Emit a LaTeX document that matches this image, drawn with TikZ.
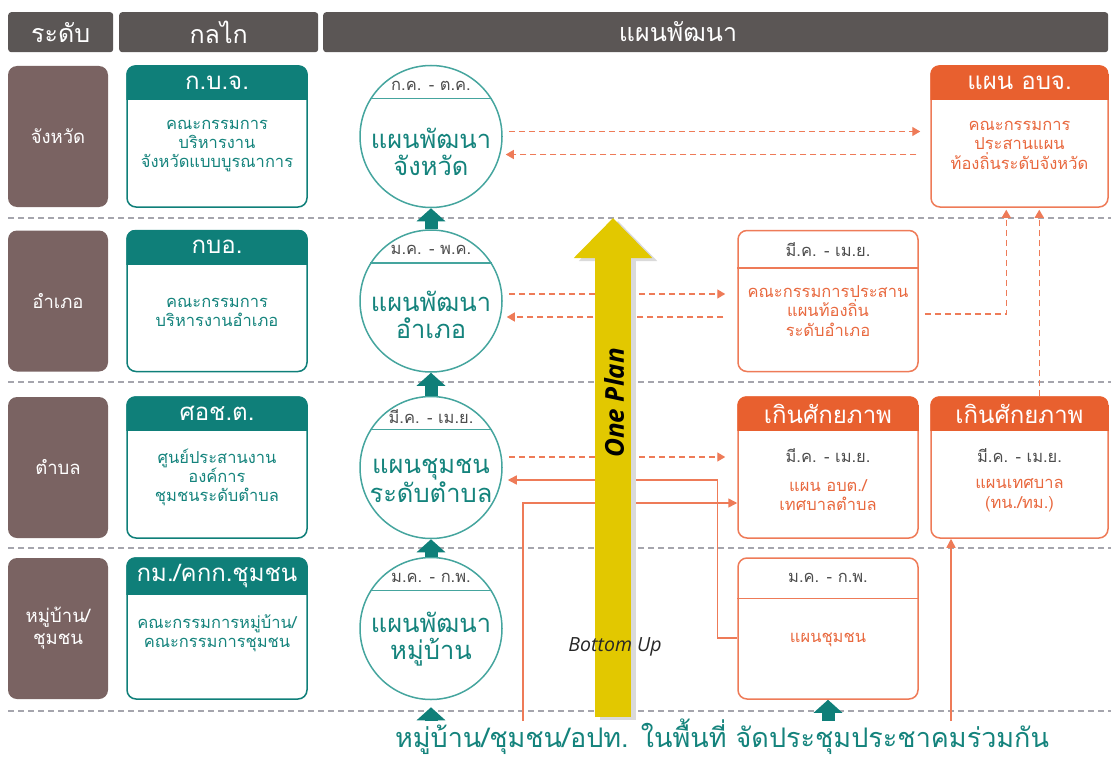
\documentclass[tikz,border=0pt]{standalone}
\usepackage{fontspec}
\setmainfont[Script=Thai]{Loma}
\newfontfamily\latinfont{Open Sans}
\usetikzlibrary{positioning,arrows.meta,calc}

\definecolor{barc}{HTML}{5B5655}
\definecolor{levelc}{HTML}{7A6362}
\definecolor{tealc}{HTML}{0F7F79}
\definecolor{tealline}{HTML}{45A59E}
\definecolor{tealtxt}{HTML}{14837C}
\definecolor{orangec}{HTML}{E8602F}
\definecolor{orangeline}{HTML}{EE7B58}
\definecolor{orangetxt}{HTML}{E8683E}
\definecolor{yellowc}{HTML}{E2C800}
\definecolor{shadowc}{HTML}{DADADA}
\definecolor{sepc}{HTML}{A5A5AD}
\definecolor{datec}{HTML}{4D4D4D}

% coloured top band of a box node
\newcommand{\headband}[3]{%
  \begin{scope}
    \clip[rounded corners=9] (#1.south west) rectangle (#1.north east);
    \fill[#2] (#1.north west) rectangle ([yshift=-#3]#1.north east);
  \end{scope}}

\begin{document}
\begin{tikzpicture}[x=1pt, y=-1pt, >=Latex,
    bar/.style={fill=barc, text=white, rounded corners=3, minimum height=40, inner sep=0, font=\fontsize{25}{30}\selectfont},
    level/.style={fill=levelc, text=white, rounded corners=9, minimum width=100, minimum height=141, align=center, font=\fontsize{18.5}{22}\selectfont},
    mechbox/.style={draw=tealc, line width=1.5, rounded corners=9, minimum width=180, minimum height=141},
    planbox/.style={draw=orangeline, line width=1.5, rounded corners=9, minimum height=141},
    plan/.style={circle, draw=tealline, line width=1.5, minimum size=142, inner sep=0},
    captxt/.style={text=white, font=\fontsize{24}{28}\selectfont},
    mechtxt/.style={text=tealtxt, align=center, font=\fontsize{16.5}{19}\selectfont},
    localtxt/.style={text=orangetxt, align=center, font=\fontsize{16.5}{19.5}\selectfont},
    datetxt/.style={text=datec, font=\fontsize{16.5}{20}\selectfont},
    plantxt/.style={text=tealtxt, align=center, font=\fontsize{25.5}{27}\selectfont},
    sep/.style={sepc, line width=1.2, dash pattern=on 6pt off 4pt},
    dashlink/.style={orangeline, line width=1.4, dash pattern=on 6pt off 4pt, -{Triangle[width=9pt,length=8pt]}},
    link/.style={orangeline, line width=1.5, -{Triangle[width=9pt,length=9pt]}},
    uparrow/.style={tealc, line width=13, -{Triangle[width=28pt,length=13pt]}},
  ]
  \useasboundingbox (0,0) rectangle (1111,760);

  % header bar
  \node[bar, minimum width=105, anchor=north west] (hlevel) at (8,12) {ระดับ};
  \node[bar, minimum width=199, anchor=north west] (hmech) at (119,12) {กลไก};
  \node[bar, minimum width=785, anchor=north west] (hplan) at (323,12) {};
  \node[captxt, font=\fontsize{25}{30}\selectfont] (hplant) at (678,32) {แผนพัฒนา};

  % row separators
  \foreach \y in {218,382,548,711}
    \draw[sep] (8,\y) -- (1111,\y);

  % levels
  \node[level] (lv1) at (58,136.5) {จังหวัด};
  \node[level] (lv2) at (58,301) {อำเภอ};
  \node[level] (lv3) at (58,467.5) {ตำบล};
  \node[level] (lv4) at (58,628.5) {หมู่บ้าน/\\ชุมชน};

  % mechanisms
  \node[mechbox] (m1) at (217,136.5) {};
  \node[mechbox] (m2) at (217,301) {};
  \node[mechbox] (m3) at (217,467.5) {};
  \node[mechbox] (m4) at (217,628.5) {};
  \headband{m1}{tealc}{35pt}
  \headband{m2}{tealc}{35pt}
  \headband{m3}{tealc}{35pt}
  \headband{m4}{tealc}{38pt}
  \node[captxt] (m1t) at ($(m1.north)+(0,17.5)$) {ก.บ.จ.};
  \node[captxt] (m2t) at ($(m2.north)+(0,17.5)$) {กบอ.};
  \node[captxt] (m3t) at ($(m3.north)+(0,17.5)$) {ศอช.ต.};
  \node[captxt] (m4t) at ($(m4.north)+(0,19)$) {กม./คกก.ชุมชน};
  \node[mechtxt] (m1b) at ($(m1.north)+(0,81)$) {คณะกรรมการ\\บริหารงาน\\จังหวัดแบบบูรณาการ};
  \node[mechtxt] (m2b) at ($(m2.north)+(0,83)$) {คณะกรรมการ\\บริหารงานอำเภอ};
  \node[mechtxt] (m3b) at ($(m3.north)+(0,81)$) {ศูนย์ประสานงาน\\องค์การ\\ชุมชนระดับตำบล};
  \node[mechtxt] (m4b) at ($(m4.north)+(0,76)$) {คณะกรรมการหมู่บ้าน/\\คณะกรรมการชุมชน};

  % development plans
  \node[plan] (p1) at (431,136.5) {};
  \node[plan] (p2) at (431,301) {};
  \node[plan] (p3) at (431,467.5) {};
  \node[plan] (p4) at (431,628.5) {};
  \foreach \p in {p1,p2,p3,p4}
    \draw[tealline, line width=1.5] (\p.148) -- (\p.32);
  \node[datetxt] (p1d) at ($(p1.north)+(0,21)$) {ก.ค. - ต.ค.};
  \node[datetxt] (p2d) at ($(p2.north)+(0,21)$) {ม.ค. - พ.ค.};
  \node[datetxt] (p3d) at ($(p3.north)+(0,21)$) {มี.ค. - เม.ย.};
  \node[datetxt] (p4d) at ($(p4.north)+(0,21)$) {ม.ค. - ก.พ.};
  \node[plantxt] (p1t) at ($(p1.center)+(0,15)$) {แผนพัฒนา\\จังหวัด};
  \node[plantxt] (p2t) at ($(p2.center)+(0,14)$) {แผนพัฒนา\\อำเภอ};
  \node[plantxt] (p3t) at ($(p3.center)+(0,13)$) {แผนชุมชน\\ระดับตำบล};
  \node[plantxt] (p4t) at ($(p4.center)+(0,11)$) {แผนพัฒนา\\หมู่บ้าน};

  % local plans
  \node[planbox, minimum width=177] (obj) at (1019.5,136.5) {};
  \node[planbox, minimum width=180] (ab) at (828,301) {};
  \node[planbox, minimum width=180] (tb) at (828,467.5) {};
  \node[planbox, minimum width=177] (tm) at (1019.5,467.5) {};
  \node[planbox, minimum width=180] (vb) at (828,628.5) {};
  \headband{obj}{orangec}{35pt}
  \headband{tb}{orangec}{35pt}
  \headband{tm}{orangec}{35pt}
  \draw[orangeline, line width=1.5] ($(ab.north west)+(0,38)$) -- ($(ab.north east)+(0,38)$);
  \draw[orangeline, line width=1.5] ($(vb.north west)+(0,41)$) -- ($(vb.north east)+(0,41)$);
  \node[captxt] (objt) at ($(obj.north)+(0,17.5)$) {แผน อบจ.};
  \node[captxt] (tbt) at ($(tb.north)+(0,17.5)$) {เกินศักยภาพ};
  \node[captxt] (tmt) at ($(tm.north)+(0,17.5)$) {เกินศักยภาพ};
  \node[datetxt] (abd) at ($(ab.north)+(0,20)$) {มี.ค. - เม.ย.};
  \node[datetxt] (tbd) at ($(tb.north)+(0,59)$) {มี.ค. - เม.ย.};
  \node[datetxt] (tmd) at ($(tm.north)+(0,59)$) {มี.ค. - เม.ย.};
  \node[datetxt] (vbd) at ($(vb.north)+(0,21)$) {ม.ค. - ก.พ.};
  \node[localtxt] (objb) at ($(obj.north)+(0,80)$) {คณะกรรมการ\\ประสานแผน\\ท้องถิ่นระดับจังหวัด};
  \node[localtxt] (abb) at ($(ab.north)+(0,81)$) {คณะกรรมการประสาน\\แผนท้องถิ่น\\ระดับอำเภอ};
  \node[localtxt] (tbb) at ($(tb.north)+(0,99)$) {แผน อบต./\\เทศบาลตำบล};
  \node[localtxt] (tmb) at ($(tm.north)+(0,99)$) {แผนเทศบาล\\(ทน./ทม.)};
  \node[localtxt] (vbb) at ($(vb.north)+(0,83)$) {แผนชุมชน};

  % links between plans
  \draw[dashlink] ($(p1.east)+(6,-5)$) -- ($(obj.west)+(-10,-5)$);
  \draw[dashlink] ($(obj.west)+(-14,18)$) -- ($(p1.east)+(3,18)$);
  \draw[dashlink] ($(p2.east)+(6,-7)$) -- ($(ab.west)+(-12,-7)$);
  \draw[dashlink] ($(ab.west)+(-14,16)$) -- ($(p2.east)+(4,16)$);
  \draw[dashlink] ($(p3.east)+(6,-10.5)$) -- ($(tb.west)+(-12,-10.5)$);
  \draw[dashlink] ($(ab.east)+(6,13)$) -| ($(obj.south west)+(76,2)$);
  \draw[dashlink] ($(tm.north west)+(109,0)$) -- ($(obj.south west)+(109,2)$);
  \draw[link] ($(vb.west)+(0,9.5)$) -- ++(-20,0) |- ($(p3.east)+(5,12.5)$);
  \coordinate (forumw) at (523,721);
  \coordinate (forume) at (951,721);
  \draw[link] (forumw) |- ($(tb.west)+(0,35.5)$);
  \draw[link] (forume) -- (forume |- tm.south);

  % bottom-up flow
  \draw[uparrow] (p2.north) -- (p1.south);
  \draw[uparrow] (p3.north) -- (p2.south);
  \draw[uparrow] (p4.north) -- (p3.south);
  \coordinate (p4in) at (431,721);
  \coordinate (vbin) at (828,721);
  \draw[uparrow, shorten >=7pt] (p4in) -- (p4.south);
  \draw[uparrow] (vbin) -- (vb.south);

  % one plan arrow
  \coordinate (upb) at (613,717);
  \coordinate (upt) at (613,218);
  \draw[shadowc, line width=36, -{Triangle[width=76pt,length=40pt]}] ([xshift=5pt,yshift=-3pt]upb) -- ([xshift=5pt,yshift=-3pt]upt);
  \draw[yellowc, line width=36, -{Triangle[width=76pt,length=40pt]}] (upb) -- (upt);
  \node[rotate=90, font=\latinfont\bfseries\itshape\fontsize{26}{30}\selectfont] (oneplan) at (614,403) {One Plan};
  \node[text=black!85, font=\latinfont\itshape\fontsize{19.5}{23}\selectfont] (botup) at (615,647) {Bottom Up};

  % village forum
  \node[text=tealtxt, font=\fontsize{27}{31}\selectfont] (forum) at (722,737) {หมู่บ้าน/ชุมชน/อปท. ในพื้นที่ จัดประชุมประชาคมร่วมกัน};
\end{tikzpicture}
\end{document}
